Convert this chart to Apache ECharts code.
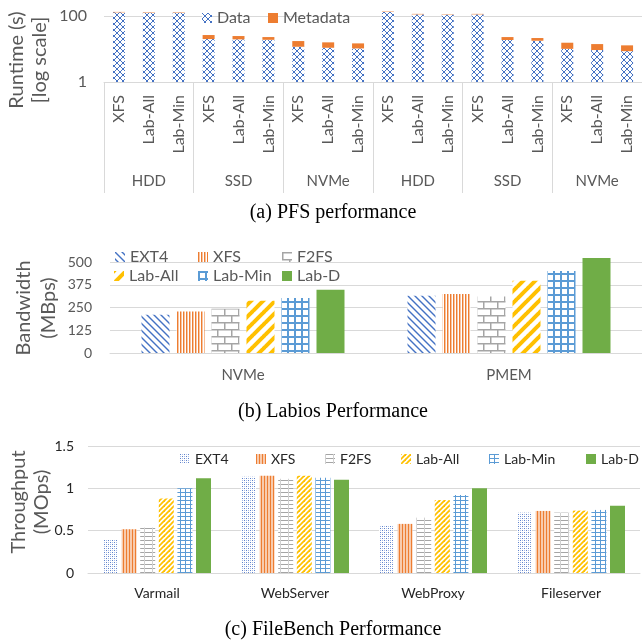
<!DOCTYPE html>
<html>
<head>
<meta charset="utf-8">
<script src="https://cdn.jsdelivr.net/npm/echarts@6/dist/echarts.min.js"></script>
<style>
  html, body { margin: 0; padding: 0; background: #fff; }
  #chart { width: 642px; height: 642px; }
</style>
</head>
<body>
<div id="chart"></div>
<script>
// (a) PFS performance, runtime in seconds (log scale)
var pfsDevices = ['HDD', 'SSD', 'NVMe', 'HDD', 'SSD', 'NVMe']
var pfsSystems = ['XFS', 'Lab-All', 'Lab-Min']
var pfsData = [129, 126, 126, 20, 19.6, 19, 11.7, 10.9, 10.4, 132, 112, 110, 112, 18.7, 17.8, 10.1, 9.3, 8.6]
var pfsMeta = [4, 4, 4, 6.5, 5.1, 4, 5.7, 5, 4.4, 4, 4, 3, 4, 4.3, 3.7, 5.4, 4.8, 4.3]

// (b) Labios performance, bandwidth in MBps
var bwDevices = ['NVMe', 'PMEM']
var bwExt4 = [210, 315]
var bwXfs = [228, 324]
var bwF2fs = [243, 311]
var bwLabAll = [287, 397]
var bwLabMin = [302, 450]
var bwLabD = [348, 522]

// (c) FileBench performance, throughput in MOps
var fbWorkloads = ['Varmail', 'WebServer', 'WebProxy', 'Fileserver']
var fbExt4 = [0.40, 1.137, 0.556, 0.713]
var fbXfs = [0.517, 1.148, 0.58, 0.733]
var fbF2fs = [0.537, 1.113, 0.654, 0.713]
var fbLabAll = [0.88, 1.148, 0.862, 0.737]
var fbLabMin = [1.0, 1.125, 0.92, 0.745]
var fbLabD = [1.12, 1.10, 1.0, 0.795]

var FONT = 'Lato'
var GRID_LINE = '#d9d9d9'
var BLUE = '#4472C4'
var ORANGE = '#ED7D31'
var GRAY = '#A5A5A5'
var GOLD = '#FFC000'
var LBLUE = '#5B9BD5'
var GREEN = '#70AD47'

function pattern(w, h, bg, draw) {
  var c = document.createElement('canvas')
  c.width = w
  c.height = h
  var g = c.getContext('2d')
  if (bg) {
    g.fillStyle = bg
    g.fillRect(0, 0, w, h)
  }
  draw(g, w, h)
  return { image: c, repeat: 'repeat' }
}

// diagonal lines, dir 1 = '/', dir -1 = '\'
function diag(size, color, lw, dir) {
  return pattern(size, size, '#fff', function(g) {
    g.strokeStyle = color
    g.lineWidth = lw
    for (var k = -1; k <= 1; k++) {
      g.beginPath()
      if (dir > 0) {
        g.moveTo(k * size - 1, size + 1)
        g.lineTo(k * size + size + 1, -1)
      } else {
        g.moveTo(k * size - 1, -1)
        g.lineTo(k * size + size + 1, size + 1)
      }
      g.stroke()
    }
  })
}

var pat = {
  data: pattern(6, 6, '#fff', function(g) {
    g.fillStyle = BLUE
    for (var i = 0; i < 6; i++) {
      g.fillRect(i, i, 1, 1)
      g.fillRect(5 - i, i, 1, 1)
    }
  }),
  bExt4: diag(7, BLUE, 1.4, -1),
  bXfs: pattern(3, 1, '#fff', function(g) {
    g.fillStyle = ORANGE
    g.fillRect(0, 0, 1, 1)
    g.fillStyle = 'rgba(237,125,49,0.45)'
    g.fillRect(1, 0, 1, 1)
  }),
  bF2fs: pattern(14, 14, '#fff', function(g) {
    g.fillStyle = GRAY
    g.fillRect(0, 0, 14, 1.5)
    g.fillRect(0, 7, 14, 1.5)
    g.fillRect(0, 0, 1.5, 7)
    g.fillRect(7, 7, 1.5, 7)
  }),
  bLabAll: diag(12, GOLD, 4, 1),
  bLabMin: pattern(7, 7, '#fff', function(g) {
    g.fillStyle = LBLUE
    g.fillRect(0, 0, 7, 2)
    g.fillRect(0, 0, 2, 7)
  }),
  cExt4: pattern(4, 4, '#fff', function(g) {
    g.fillStyle = '#5f82cc'
    g.fillRect(0, 0, 1, 1)
    g.fillRect(2, 2, 1, 1)
    g.fillStyle = '#a9bde6'
    g.fillRect(2, 0, 1, 1)
    g.fillRect(0, 2, 1, 1)
  }),
  cXfs: pattern(3, 1, '#F8CBAD', function(g) {
    g.fillStyle = ORANGE
    g.fillRect(0, 0, 1, 1)
  }),
  cF2fs: pattern(8, 4, '#fff', function(g) {
    g.fillStyle = GRAY
    g.fillRect(0, 0, 8, 1)
    g.fillStyle = '#d0d0d0'
    g.fillRect(0, 0, 1, 4)
  }),
  cLabAll: diag(5, GOLD, 1.8, 1),
  cLabMin: pattern(5, 4, '#fff', function(g) {
    g.fillStyle = LBLUE
    g.fillRect(0, 0, 5, 1)
    g.fillRect(0, 0, 1, 4)
  })
}

var pfsLabels = []
pfsDevices.forEach(function() {
  pfsSystems.forEach(function(s) { pfsLabels.push(s) })
})

var fsNames = ['EXT4', 'XFS', 'F2FS', 'Lab-All', 'Lab-Min', 'Lab-D']
var bwValues = [bwExt4, bwXfs, bwF2fs, bwLabAll, bwLabMin, bwLabD]
var bwColors = [pat.bExt4, pat.bXfs, pat.bF2fs, pat.bLabAll, pat.bLabMin, GREEN]
var fbValues = [fbExt4, fbXfs, fbF2fs, fbLabAll, fbLabMin, fbLabD]
var fbColors = [pat.cExt4, pat.cXfs, pat.cF2fs, pat.cLabAll, pat.cLabMin, GREEN]

var series = [
  {
    name: 'Data', type: 'bar', stack: 'pfs', xAxisIndex: 0, yAxisIndex: 0,
    barWidth: 12, clip: false, data: pfsData, itemStyle: { color: pat.data }
  },
  {
    name: 'Metadata', type: 'bar', stack: 'pfs', xAxisIndex: 0, yAxisIndex: 0,
    barWidth: 12, clip: false, data: pfsMeta, itemStyle: { color: ORANGE }
  }
]
fsNames.forEach(function(n, i) {
  series.push({
    name: n, type: 'bar', xAxisIndex: 2, yAxisIndex: 1, barWidth: 28, barGap: '25%',
    clip: false, data: bwValues[i], itemStyle: { color: bwColors[i] }
  })
})
fsNames.forEach(function(n, i) {
  series.push({
    name: n, type: 'bar', xAxisIndex: 3, yAxisIndex: 2, barWidth: 15, barGap: '24%',
    clip: false, data: fbValues[i], itemStyle: { color: fbColors[i] }
  })
})

// one legend per item so positions match the figure
var legends = []
function addLegend(name, color, left, cy, size, textColor) {
  legends.push({
    data: [{ name: name, itemStyle: { color: color } }],
    left: left, top: cy - size / 2, padding: 0,
    icon: 'rect', itemWidth: 10, itemHeight: 10, selectedMode: false,
    textStyle: { fontFamily: FONT, fontSize: size, color: textColor, lineHeight: size }
  })
}
addLegend('Data', pat.data, 202, 18, 16, '#595959')
addLegend('Metadata', ORANGE, 268, 18, 16, '#595959')
var bwLeft = [115, 198, 282, 114, 198, 282]
var bwTop = [257, 257, 257, 276, 276, 276]
fsNames.forEach(function(n, i) {
  addLegend(n, bwColors[i], bwLeft[i], bwTop[i], 16, '#595959')
})
var fbLeft = [180, 256, 325, 401, 489, 586]
fsNames.forEach(function(n, i) {
  addLegend(n, fbColors[i], fbLeft[i], 459, 14, '#262626')
})

function rotText(text, x, y) {
  return {
    type: 'text', x: x, y: y, rotation: Math.PI / 2,
    style: { text: text, fontFamily: FONT, fontSize: 20, fill: '#595959', align: 'center', verticalAlign: 'middle' }
  }
}
function caption(text, y) {
  return {
    type: 'text', x: 333, y: y,
    style: { text: text, fontFamily: 'Liberation Serif', fontSize: 20, fill: '#000', align: 'center', verticalAlign: 'middle' }
  }
}

var chart = echarts.init(document.getElementById('chart'), null, { renderer: 'canvas' })
chart.setOption({
  animation: false,
  backgroundColor: '#fff',
  legend: legends,
  grid: [
    { left: 104, right: -3, top: 16, height: 66 },
    { left: 110, right: -2, top: 262, height: 91 },
    { left: 88, right: 2, top: 446, height: 127 }
  ],
  xAxis: [
    {
      gridIndex: 0, type: 'category', position: 'bottom', data: pfsLabels,
      axisLine: { lineStyle: { color: GRID_LINE } },
      axisTick: { show: false },
      axisLabel: { rotate: 90, margin: 13, interval: 0, fontFamily: FONT, fontSize: 16, color: '#595959' }
    },
    {
      gridIndex: 0, type: 'category', position: 'bottom', data: pfsDevices,
      axisLine: { show: false },
      axisTick: { show: true, length: 111, interval: 0, lineStyle: { color: GRID_LINE } },
      axisLabel: { margin: 92, interval: 0, fontFamily: FONT, fontSize: 15, color: '#595959' }
    },
    {
      gridIndex: 1, type: 'category', data: bwDevices,
      axisLine: { lineStyle: { color: GRID_LINE } },
      axisTick: { show: false },
      axisLabel: { margin: 15, fontFamily: FONT, fontSize: 15, color: '#595959' }
    },
    {
      gridIndex: 2, type: 'category', data: fbWorkloads,
      axisLine: { lineStyle: { color: GRID_LINE } },
      axisTick: { show: false },
      axisLabel: { margin: 13, fontFamily: FONT, fontSize: 14, color: '#262626' }
    }
  ],
  yAxis: [
    {
      gridIndex: 0, type: 'log', logBase: 100, min: 1, max: 100,
      axisLine: { show: false }, axisTick: { show: false },
      axisLabel: { margin: 17, fontFamily: FONT, fontSize: 16, color: '#595959' },
      splitLine: { lineStyle: { color: GRID_LINE } }
    },
    {
      gridIndex: 1, type: 'value', min: 0, max: 500, interval: 125,
      axisLine: { show: false }, axisTick: { show: false },
      axisLabel: { margin: 18, fontFamily: FONT, fontSize: 14, color: '#595959' },
      splitLine: { lineStyle: { color: GRID_LINE } }
    },
    {
      gridIndex: 2, type: 'value', min: 0, max: 1.5, interval: 0.5,
      axisLine: { show: false }, axisTick: { show: false },
      axisLabel: { margin: 14, fontFamily: FONT, fontSize: 14, color: '#262626' },
      splitLine: { lineStyle: { color: GRID_LINE } }
    }
  ],
  series: series,
  graphic: [
    rotText('Runtime (s)', 17, 60),
    rotText('[log scale]', 40, 60),
    rotText('Bandwidth', 24, 308),
    rotText('(MBps)', 49, 308),
    rotText('Throughput', 19, 502),
    rotText('(MOps)', 42, 502),
    caption('(a) PFS performance', 213),
    caption('(b) Labios Performance', 412),
    caption('(c) FileBench Performance', 630)
  ]
})
</script>
</body>
</html>
